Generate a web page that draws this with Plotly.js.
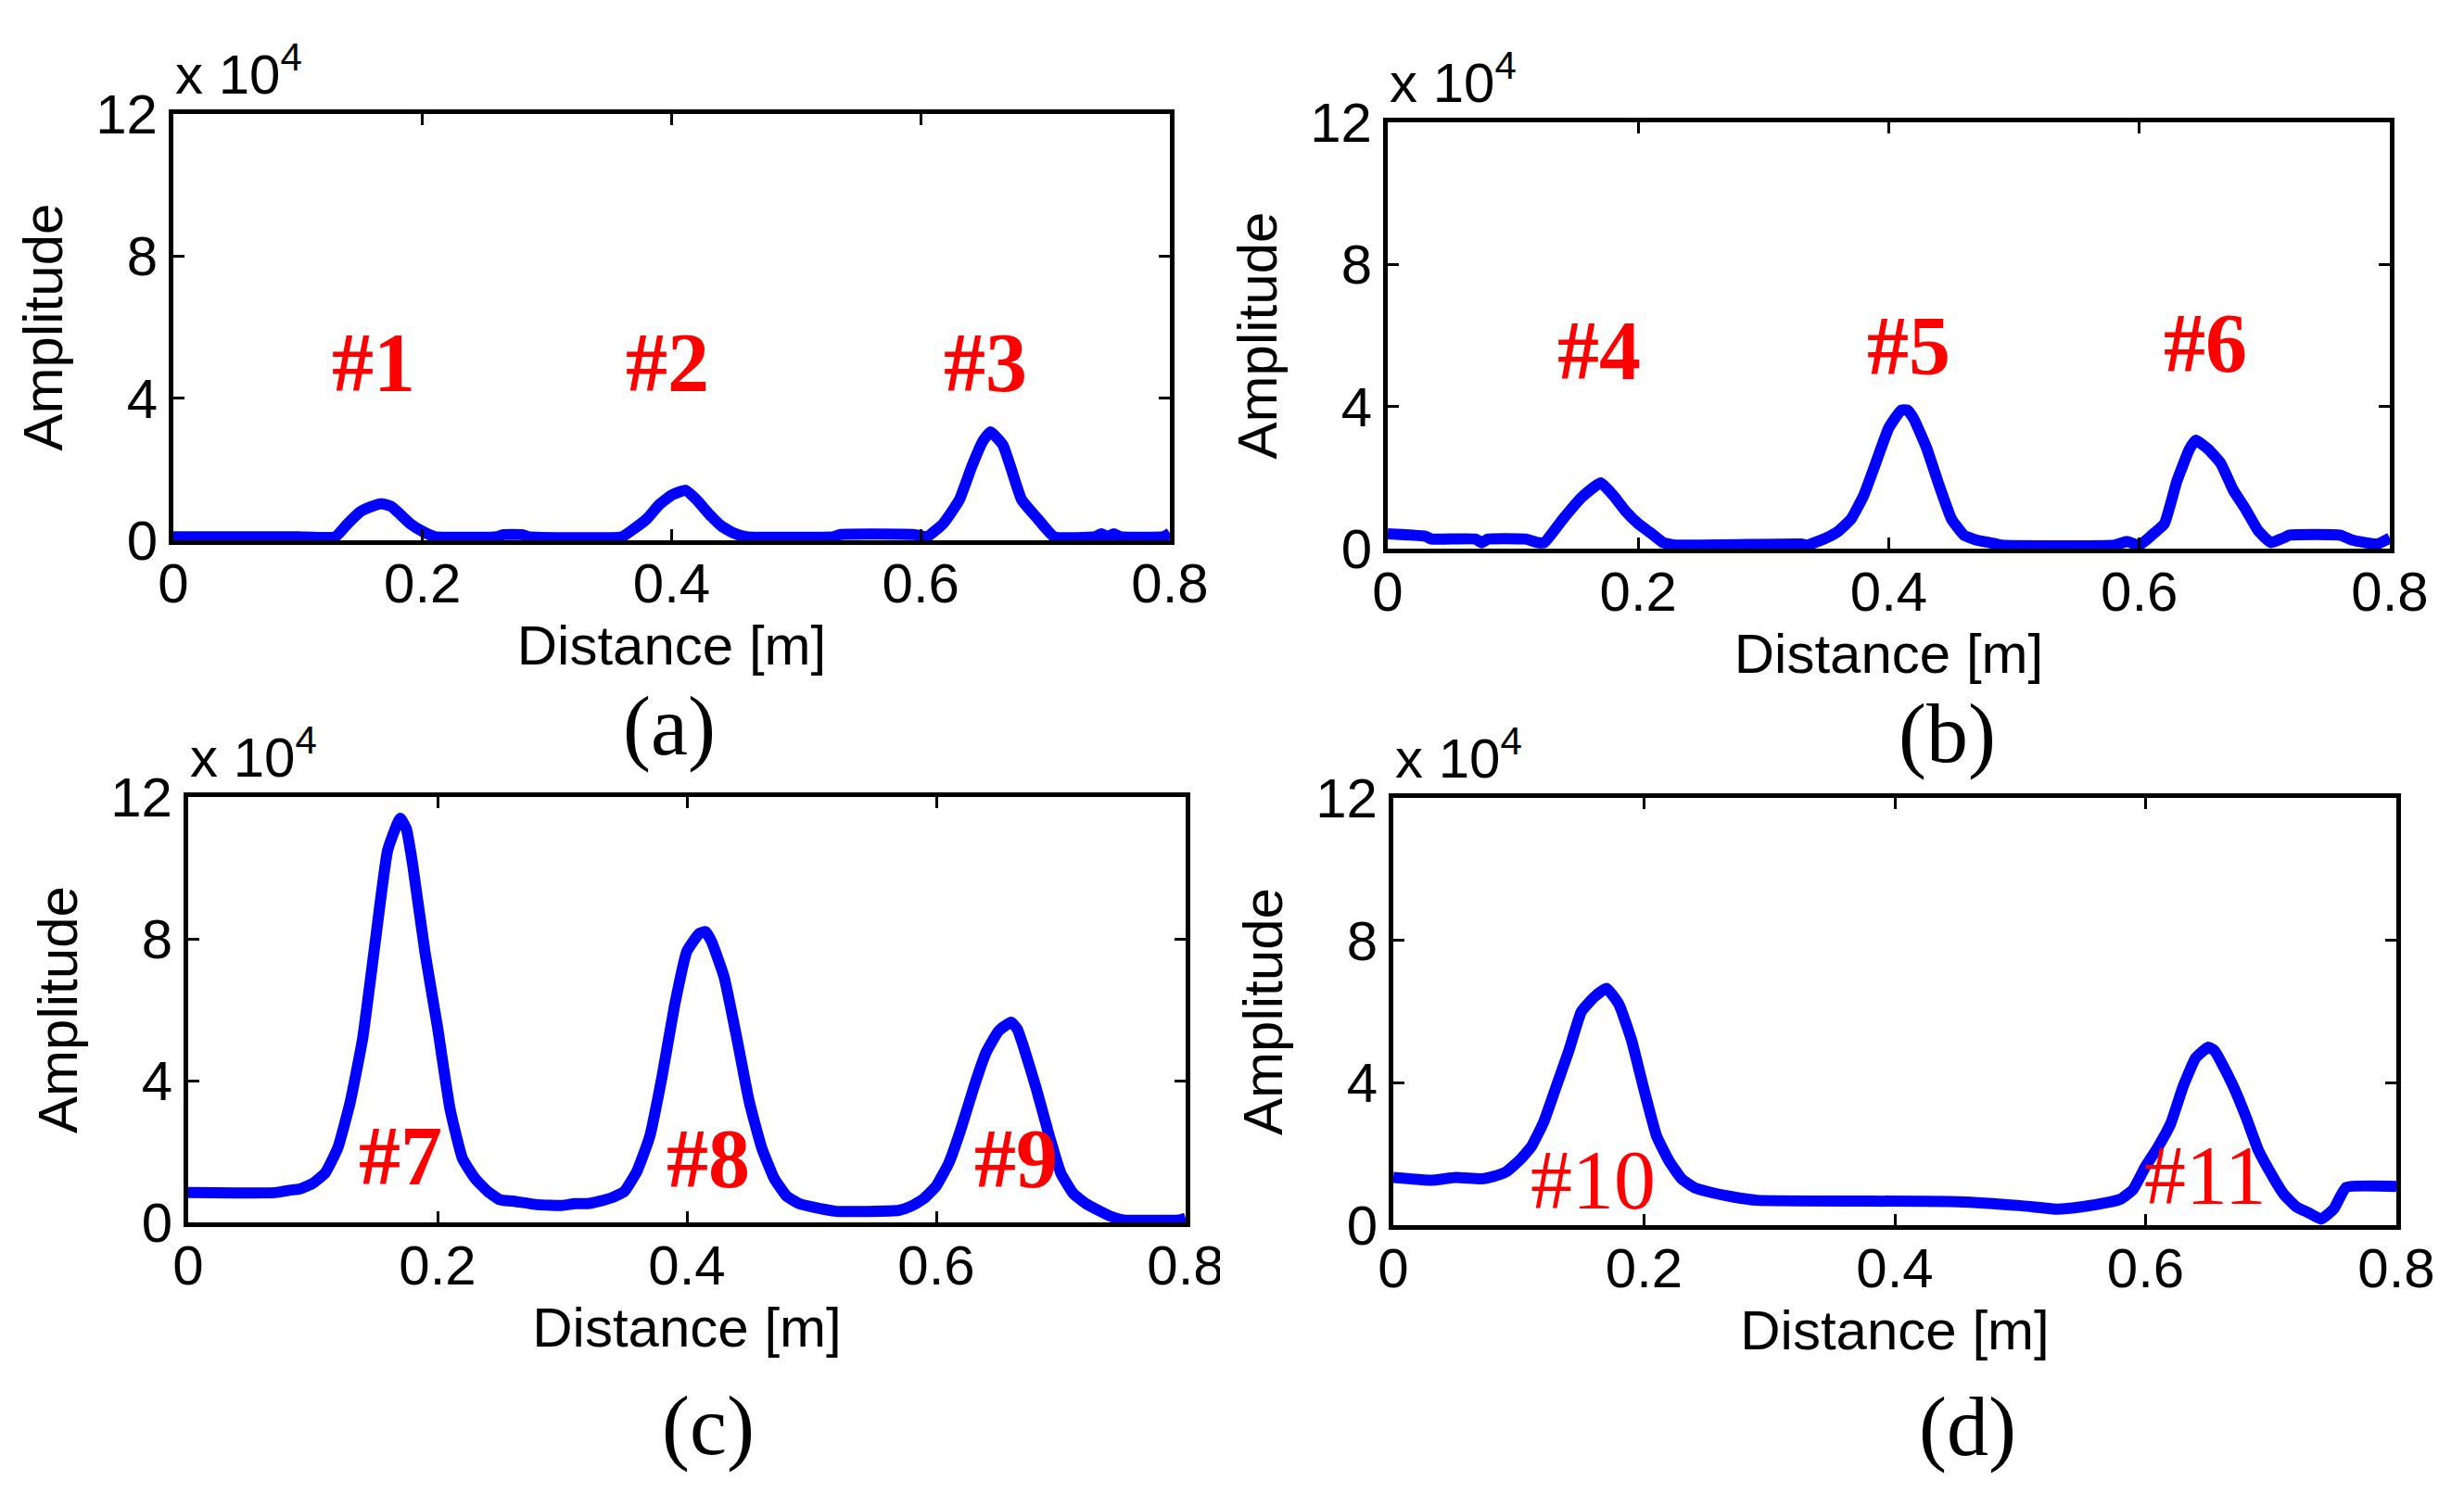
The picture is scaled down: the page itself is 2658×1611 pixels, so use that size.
<!DOCTYPE html>
<html>
<head>
<meta charset="utf-8">
<script src="https://cdn.plot.ly/plotly-3.0.1.min.js"></script>
<style>
  html, body { margin: 0; padding: 0; background: #fff; }
  #fig { width: 2658px; height: 1611px; }
</style>
</head>
<body>
<div id="fig"></div>
<script>
// amplitude values are in units of 1e4 (axis label says "x 10^4")

// (a) damage #1 - #3
let distA = [0, 0.05, 0.1, 0.13, 0.14, 0.15, 0.16, 0.167, 0.175, 0.18, 0.19, 0.2, 0.21,
  0.26, 0.265, 0.28, 0.285, 0.36, 0.37, 0.38, 0.39, 0.4, 0.411, 0.42, 0.43, 0.44, 0.45, 0.46,
  0.53, 0.535, 0.595, 0.605, 0.618, 0.631, 0.641, 0.65, 0.656, 0.666, 0.672, 0.681, 0.694, 0.707,
  0.74, 0.745, 0.75, 0.755, 0.76, 0.795, 0.8];
let ampA = [0.1, 0.1, 0.1, 0.1, 0.47, 0.8, 0.96, 1.03, 0.95, 0.8, 0.47, 0.25, 0.1,
  0.1, 0.16, 0.16, 0.1, 0.1, 0.33, 0.6, 1.0, 1.27, 1.41, 1.14, 0.74, 0.4, 0.2, 0.1,
  0.1, 0.16, 0.16, 0.1, 0.47, 1.14, 2.08, 2.8, 3.05, 2.68, 2.08, 1.14, 0.6, 0.1,
  0.1, 0.18, 0.1, 0.18, 0.1, 0.1, 0.2];

// (b) damage #4 - #6
let distB = [0, 0.03, 0.035, 0.07, 0.075, 0.08, 0.11, 0.12, 0.125, 0.14, 0.155, 0.17, 0.18, 0.19,
  0.2, 0.21, 0.22, 0.23, 0.33, 0.335, 0.35, 0.36, 0.37, 0.38, 0.39, 0.4, 0.41, 0.415, 0.42, 0.43,
  0.44, 0.45, 0.46, 0.47, 0.48, 0.49, 0.58, 0.59, 0.6, 0.61, 0.62, 0.63, 0.64, 0.645, 0.655,
  0.665, 0.675, 0.685, 0.695, 0.705, 0.715, 0.72, 0.76, 0.77, 0.79, 0.8];
let ampB = [0.42, 0.35, 0.27, 0.27, 0.17, 0.27, 0.27, 0.17, 0.17, 0.84, 1.45, 1.85, 1.5, 1.05,
  0.7, 0.44, 0.17, 0.1, 0.13, 0.1, 0.3, 0.5, 0.84, 1.5, 2.45, 3.4, 3.9, 3.9, 3.65, 2.85,
  1.8, 0.84, 0.38, 0.24, 0.17, 0.1, 0.1, 0.2, 0.1, 0.38, 0.7, 1.9, 2.8, 3.05, 2.8,
  2.4, 1.65, 1.1, 0.5, 0.17, 0.3, 0.38, 0.38, 0.24, 0.13, 0.3];

// (c) damage #7 - #9
let distC = [0, 0.07, 0.08, 0.09, 0.1, 0.11, 0.12, 0.13, 0.14, 0.15, 0.16, 0.17, 0.175, 0.18,
  0.19, 0.2, 0.21, 0.22, 0.23, 0.24, 0.25, 0.26, 0.28, 0.3, 0.31, 0.32, 0.33, 0.34, 0.35,
  0.36, 0.37, 0.38, 0.39, 0.4, 0.41, 0.415, 0.42, 0.43, 0.44, 0.45, 0.46, 0.47, 0.48, 0.49,
  0.5, 0.52, 0.57, 0.58, 0.59, 0.6, 0.61, 0.62, 0.63, 0.64, 0.65, 0.66, 0.665, 0.67, 0.68,
  0.69, 0.7, 0.71, 0.72, 0.73, 0.74, 0.75, 0.795, 0.8];
let ampC = [0.84, 0.84, 0.9, 0.95, 1.1, 1.4, 2.1, 3.4, 5.2, 7.9, 10.5, 11.4, 11.1, 10.1,
  7.6, 5.5, 3.2, 1.8, 1.24, 0.88, 0.64, 0.6, 0.5, 0.48, 0.53, 0.53, 0.6, 0.7, 0.88,
  1.45, 2.4, 4.1, 6.1, 7.65, 8.15, 8.2, 7.9, 6.9, 5.2, 3.4, 2.1, 1.24, 0.74, 0.53,
  0.44, 0.31, 0.34, 0.46, 0.67, 1.03, 1.67, 2.66, 3.8, 4.8, 5.4, 5.65, 5.45, 4.95, 3.8,
  2.52, 1.38, 0.81, 0.53, 0.34, 0.17, 0.07, 0.07, 0.12];

// (d) damage #10 - #11
let distD = [0, 0.03, 0.05, 0.07, 0.08, 0.09, 0.1, 0.11, 0.12, 0.13, 0.14, 0.15, 0.16, 0.17,
  0.18, 0.19, 0.2, 0.21, 0.22, 0.23, 0.24, 0.25, 0.27, 0.29, 0.45, 0.5, 0.53, 0.55, 0.57,
  0.58, 0.59, 0.6, 0.61, 0.62, 0.63, 0.64, 0.65, 0.655, 0.66, 0.67, 0.68, 0.69, 0.7, 0.71,
  0.72, 0.73, 0.74, 0.75, 0.76, 0.8];
let ampD = [1.34, 1.26, 1.34, 1.3, 1.37, 1.5, 1.8, 2.2, 2.9, 3.9, 4.9, 6.0, 6.4, 6.65,
  6.2, 5.2, 3.8, 2.5, 1.8, 1.3, 1.06, 0.95, 0.8, 0.7, 0.66, 0.55, 0.45, 0.52, 0.64,
  0.73, 1.0, 1.65, 2.2, 2.85, 3.9, 4.7, 5.0, 4.9, 4.6, 3.9, 3.05, 2.1, 1.45, 0.88,
  0.52, 0.35, 0.17, 0.45, 1.06, 1.09];

let xTicks = [0, 0.2, 0.4, 0.6, 0.8];
let yTicks = [0, 4, 8, 12];

const W = 2658, H = 1611;
function xdom(p0, p1) { return [p0 / W, p1 / W]; }
function ydom(top, bottom) { return [1 - bottom / H, 1 - top / H]; }

const sans = 'Liberation Sans, Arial, Helvetica, sans-serif';
const serif = 'Liberation Serif, Times New Roman, serif';

function xAxis(domain, anchor) {
  return {
    domain: domain, anchor: anchor, range: [0, 0.8],
    tickvals: xTicks, ticks: 'inside', ticklen: 12, tickwidth: 3, tickcolor: '#000',
    showline: true, linewidth: 5, linecolor: '#000', mirror: 'ticks',
    showgrid: false, zeroline: false, ticklabelstandoff: -10,
    tickfont: {family: sans, size: 60, color: '#000'},
    title: {text: 'Distance [m]', standoff: 14, font: {family: sans, size: 60, color: '#000'}}
  };
}
function yAxis(domain, anchor) {
  return {
    domain: domain, anchor: anchor, range: [0, 12],
    tickvals: yTicks, ticks: 'inside', ticklen: 12, tickwidth: 3, tickcolor: '#000',
    showline: true, linewidth: 5, linecolor: '#000', mirror: 'ticks',
    showgrid: false, zeroline: false, ticklabelstandoff: 0,
    tickfont: {family: sans, size: 60, color: '#000'},
    title: {text: 'Amplitude', standoff: 18, font: {family: sans, size: 60, color: '#000'}}
  };
}

function curve(x, y, xa, ya) {
  return {x: x, y: y, xaxis: xa, yaxis: ya, type: 'scatter', mode: 'lines',
    line: {color: '#0000ff', width: 12, shape: 'spline', smoothing: 0.4},
    showlegend: false, hoverinfo: 'skip'};
}

let traces = [
  curve(distA, ampA, 'x', 'y'),
  curve(distB, ampB, 'x2', 'y2'),
  curve(distC, ampC, 'x3', 'y3'),
  curve(distD, ampD, 'x4', 'y4')
];

function damage(text, x, y, xa, ya, bold) {
  return {text: bold ? '<b>' + text + '</b>' : text, x: x, y: y, xref: xa, yref: ya,
    showarrow: false, xanchor: 'center', yanchor: 'middle',
    font: {family: serif, size: 90, color: '#ff0000'}};
}
function scale(xa, ya) {
  return {text: 'x 10<sup>4</sup>', x: 0, y: 1, xref: xa + ' domain', yref: ya + ' domain',
    xanchor: 'left', yanchor: 'bottom', showarrow: false, yshift: 7,
    font: {family: sans, size: 60, color: '#000'}};
}
function panel(text, px, py) {
  return {text: text, x: px / W, y: 1 - py / H, xref: 'paper', yref: 'paper',
    xanchor: 'center', yanchor: 'middle', showarrow: false,
    font: {family: serif, size: 90, color: '#000'}};
}

let layout = {
  width: W, height: H,
  margin: {l: 0, r: 0, t: 0, b: 0},
  paper_bgcolor: '#fff', plot_bgcolor: '#fff',
  showlegend: false,
  xaxis: xAxis(xdom(187, 1262), 'y'),
  yaxis: yAxis(ydom(123, 583), 'x'),
  xaxis2: xAxis(xdom(1497, 2578), 'y2'),
  yaxis2: yAxis(ydom(132, 592), 'x2'),
  xaxis3: xAxis(xdom(203, 1279), 'y3'),
  yaxis3: yAxis(ydom(860, 1319), 'x3'),
  xaxis4: xAxis(xdom(1503, 2585), 'y4'),
  yaxis4: yAxis(ydom(861, 1322), 'x4'),
  annotations: [
    damage('#1', 0.161, 5.0, 'x', 'y', true),
    damage('#2', 0.397, 5.0, 'x', 'y', true),
    damage('#3', 0.652, 5.0, 'x', 'y', true),
    damage('#4', 0.169, 5.58, 'x2', 'y2', true),
    damage('#5', 0.416, 5.71, 'x2', 'y2', true),
    damage('#6', 0.653, 5.79, 'x2', 'y2', true),
    damage('#7', 0.170, 1.86, 'x3', 'y3', true),
    damage('#8', 0.417, 1.8, 'x3', 'y3', true),
    damage('#9', 0.664, 1.8, 'x3', 'y3', true),
    damage('#10', 0.159, 1.25, 'x4', 'y4', false),
    damage('#11', 0.648, 1.38, 'x4', 'y4', false),
    scale('x', 'y'), scale('x2', 'y2'), scale('x3', 'y3'), scale('x4', 'y4'),
    panel('(a)', 722, 784),
    panel('(b)', 2100, 792),
    panel('(c)', 764, 1539),
    panel('(d)', 2122, 1540)
  ],
  shapes: [
    // the bottom-left figure was cropped on its right edge, cutting its last tick label
    {type: 'rect', xref: 'paper', yref: 'paper', layer: 'above',
      x0: 1316 / W, x1: 1420 / W, y0: 1 - 1420 / H, y1: 1 - 1335 / H,
      fillcolor: '#fff', line: {width: 0}}
  ]
};

Plotly.newPlot('fig', traces, layout, {staticPlot: true, displayModeBar: false});
</script>
</body>
</html>
